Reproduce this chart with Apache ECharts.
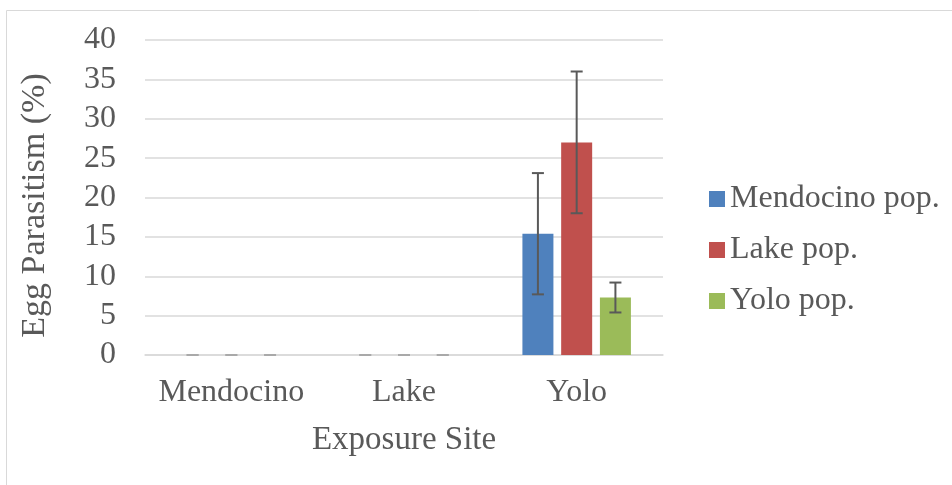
<!DOCTYPE html>
<html>
<head>
<meta charset="utf-8">
<script src="https://cdn.jsdelivr.net/npm/echarts@6/dist/echarts.min.js"></script>
<style>html,body{margin:0;padding:0;background:#fff}#c{width:952px;height:485px}</style>
</head>
<body>
<div id="c"></div>
<script>
var categories = ['Mendocino', 'Lake', 'Yolo'];
var seriesNames = ['Mendocino pop.', 'Lake pop.', 'Yolo pop.'];
var mendocinoPop = [0, 0, 15.4];
var lakePop = [0, 0, 27.0];
var yoloPop = [0, 0, 7.3];
var mendocinoErr = [0, 0, 7.7];
var lakeErr = [0, 0, 9.0];
var yoloErr = [0, 0, 1.9];
var yTicks = [0, 5, 10, 15, 20, 25, 30, 35, 40];

var colors = ['#4f81bd', '#c0504d', '#9bbb59'];
var BAR_W = 31, BAR_GAP = 0.25;
var FONT = '"Liberation Serif", "Times New Roman", serif';
var TXT = '#595959';

var values = [mendocinoPop, lakePop, yoloPop];
var errs = [mendocinoErr, lakeErr, yoloErr];

function errSeries(si) {
  var data = categories.map(function (c, i) { return [i, values[si][i], errs[si][i]]; });
  return {
    type: 'custom',
    name: seriesNames[si] + ' err',
    data: data,
    z: 10,
    silent: true,
    renderItem: function (params, api) {
      var ci = api.value(0), v = api.value(1), e = api.value(2);
      var step = BAR_W * (1 + BAR_GAP);
      var off = (si - 1) * step;
      var top = api.coord([ci, v + e]);
      var bot = api.coord([ci, v - e]);
      var x = top[0] + off;
      var cap = 6;
      var zero = e === 0;
      var st = { stroke: zero ? '#a6a6a6' : '#595959', lineWidth: zero ? 1.5 : 2 };
      return {
        type: 'group',
        children: [
          { type: 'line', shape: { x1: x, y1: top[1], x2: x, y2: bot[1] }, style: st },
          { type: 'line', shape: { x1: x - cap, y1: top[1], x2: x + cap, y2: top[1] }, style: st },
          { type: 'line', shape: { x1: x - cap, y1: bot[1], x2: x + cap, y2: bot[1] }, style: st }
        ]
      };
    }
  };
}

var series = seriesNames.map(function (n, si) {
  return {
    type: 'bar', name: n, data: values[si],
    barWidth: BAR_W, barGap: (BAR_GAP * 100) + '%',
    itemStyle: { color: colors[si] }
  };
});
series = series.concat([errSeries(0), errSeries(1), errSeries(2)]);

var chart = echarts.init(document.getElementById('c'), null, { renderer: 'canvas' });
chart.setOption({
  animation: false,
  color: colors,
  graphic: [{
    type: 'rect', left: 4, top: 8, shape: { width: 1000, height: 1000 },
    style: { fill: 'none', stroke: '#d9d9d9', lineWidth: 1 }, silent: true
  }],
  grid: { left: 145, right: 289, top: 40, bottom: 130 },
  legend: {
    data: seriesNames,
    orient: 'vertical', left: 704, top: 178,
    itemWidth: 16, itemHeight: 16, itemGap: 19,
    icon: 'rect',
    textStyle: { fontFamily: FONT, fontSize: 32, color: TXT }
  },
  xAxis: {
    type: 'category', data: categories,
    name: 'Exposure Site', nameLocation: 'middle', nameGap: 69,
    nameTextStyle: { fontFamily: FONT, fontSize: 33, color: TXT },
    axisLine: { lineStyle: { color: '#d9d9d9', width: 1.5 } },
    axisTick: { show: false },
    axisLabel: { fontFamily: FONT, fontSize: 32, color: TXT, margin: 22, interval: 0 }
  },
  yAxis: {
    type: 'value', min: yTicks[0], max: yTicks[yTicks.length - 1], interval: yTicks[1] - yTicks[0],
    name: 'Egg Parasitism (%)', nameLocation: 'middle', nameGap: 93,
    nameTextStyle: { fontFamily: FONT, fontSize: 34, color: TXT, padding: [0, 16, 0, 0] },
    axisLine: { show: false }, axisTick: { show: false },
    splitLine: { lineStyle: { color: '#d9d9d9', width: 1.5 } },
    axisLabel: { fontFamily: FONT, fontSize: 32, color: TXT, margin: 29 }
  },
  series: series
});
</script>
</body>
</html>
